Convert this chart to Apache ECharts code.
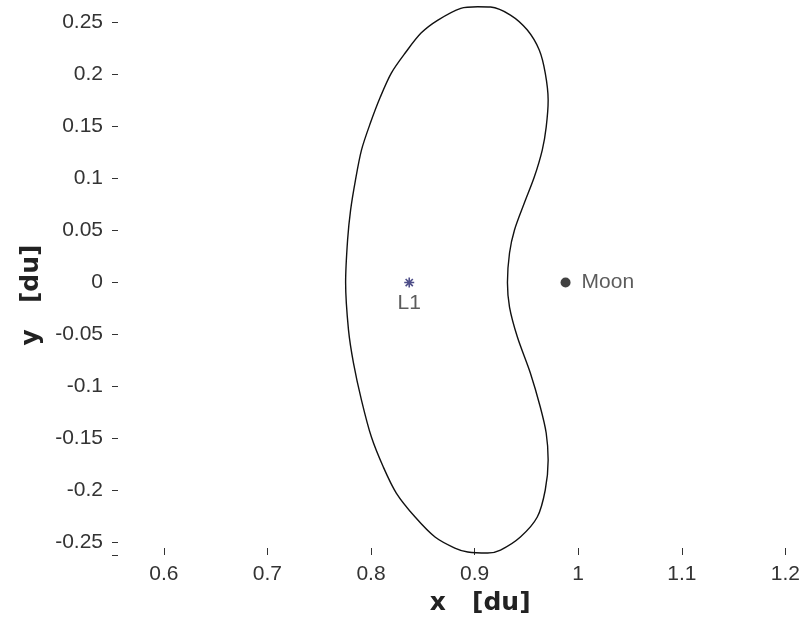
<!DOCTYPE html>
<html>
<head>
<meta charset="utf-8">
<script src="https://cdn.jsdelivr.net/npm/echarts@6/dist/echarts.min.js"></script>
<style>
  html, body { margin: 0; padding: 0; background: #fff; }
  #chart { width: 803px; height: 626px; }
</style>
</head>
<body>
<div id="chart"></div>
<script>
// Orbit path in the x-y plane (rotating frame, distance units), traced once around
const orbitX = [0.9030, 0.9154, 0.9346, 0.9509, 0.9624, 0.9682, 0.9710, 0.9691, 0.9653, 0.9576,
                0.9480, 0.9385, 0.9337, 0.9317, 0.9337, 0.9413, 0.9538, 0.9634, 0.9691,
                0.9710, 0.9682, 0.9605, 0.9442, 0.9250, 0.9126, 0.8934, 0.8809, 0.8618, 0.8426,
                0.8244, 0.8119, 0.8004, 0.7908, 0.7831, 0.7783, 0.7755, 0.7774, 0.7803,
                0.7850, 0.7908, 0.7994, 0.8090, 0.8196, 0.8330, 0.8483, 0.8646, 0.8867, 0.9030];
const orbitY = [0.2652, 0.2649, 0.2572, 0.2428, 0.2236, 0.2014, 0.1755, 0.1495, 0.1274, 0.1014,
                0.0764, 0.0505, 0.0284, 0.0000, -0.0236, -0.0524, -0.0870, -0.1197, -0.1447,
                -0.1707, -0.1995, -0.2255, -0.2447, -0.2572, -0.2601, -0.2591, -0.2553, -0.2447, -0.2255,
                -0.2024, -0.1774, -0.1486, -0.1130, -0.0774, -0.0457, 0.0000, 0.0409, 0.0697,
                0.0986, 0.1274, 0.1534, 0.1784, 0.2014, 0.2207, 0.2399, 0.2524, 0.2637, 0.2652];

// Reference points
const l1Point = [0.8369, 0];
const moonPoint = [0.9878, 0];

// Axis ticks and extents
const xTicks = [0.6, 0.7, 0.8, 0.9, 1, 1.1, 1.2];
const yTicks = [-0.25, -0.2, -0.15, -0.1, -0.05, 0, 0.05, 0.1, 0.15, 0.2, 0.25];
const xRange = [0.55, 1.2125];
const yRange = [-0.262, 0.2717];

const orbitData = orbitX.map((x, i) => [x, orbitY[i]]);
const textFont = { fontFamily: 'Liberation Sans', fontSize: 21, color: '#333' };
const titleFont = { fontFamily: 'DejaVu Sans', fontSize: 25, fontWeight: 'bold', color: '#222' };

const chart = echarts.init(document.getElementById('chart'), null, { renderer: 'canvas' });
chart.setOption({
  animation: false,
  backgroundColor: '#fff',
  grid: { left: 112, top: 0, width: 691, height: 555, containLabel: false },
  xAxis: {
    type: 'value',
    min: xRange[0], max: xRange[1],
    name: 'x   [du]',
    nameLocation: 'middle',
    nameGap: 36,
    nameTextStyle: Object.assign({ padding: [0, 0, 0, 50] }, titleFont),
    axisLine: { show: false, onZero: false },
    axisTick: { show: true, inside: true, length: 7, lineStyle: { color: '#333' }, customValues: xTicks },
    axisLabel: Object.assign({ margin: 9, customValues: xTicks, formatter: v => String(v) }, textFont),
    splitLine: { show: false }
  },
  yAxis: {
    type: 'value',
    min: yRange[0], max: yRange[1],
    name: 'y   [du]',
    nameLocation: 'middle',
    nameGap: 64,
    nameTextStyle: Object.assign({ padding: [0, 35, 0, 0] }, titleFont),
    axisLine: { show: false, onZero: false },
    axisTick: { show: true, inside: true, length: 6, lineStyle: { color: '#333' }, customValues: yTicks.concat([yRange[0]]) },
    axisLabel: Object.assign({ margin: 9, customValues: yTicks, formatter: v => String(v) }, textFont),
    splitLine: { show: false }
  },
  series: [
    {
      name: 'orbit',
      type: 'line',
      data: orbitData,
      smooth: 0.3,
      showSymbol: false,
      lineStyle: { color: '#111', width: 1.4 },
      silent: true
    },
    {
      name: 'L1',
      type: 'scatter',
      data: [l1Point],
      symbol: 'path://M0,-5L0,5M-5,0L5,0M-3.6,-3.6L3.6,3.6M-3.6,3.6L3.6,-3.6',
      symbolSize: 10,
      itemStyle: { color: 'rgba(0,0,0,0)', borderColor: '#22226a', borderWidth: 1.6 },
      label: Object.assign({ show: true, position: 'bottom', distance: 4, formatter: 'L1' }, textFont)
    },
    {
      name: 'Moon',
      type: 'scatter',
      data: [moonPoint],
      symbol: 'circle',
      symbolSize: 10,
      itemStyle: { color: '#111' },
      label: Object.assign({ show: true, position: 'right', distance: 11, formatter: 'Moon' }, textFont)
    }
  ]
});
</script>
</body>
</html>
